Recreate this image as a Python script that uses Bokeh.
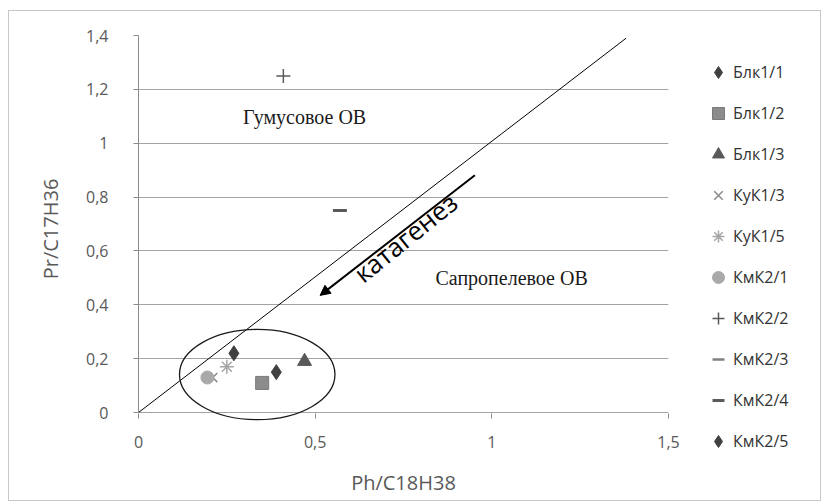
from bokeh.plotting import figure
from bokeh.layouts import row
from bokeh.models import (Range1d, FixedTicker, CustomJSTickFormatter, Legend, LegendItem,
                          Label, Arrow, NormalHead, ColumnDataSource)
from bokeh.embed import file_html
from bokeh.resources import INLINE

# ---- data ----
series_names = ["Блк1/1", "Блк1/2", "Блк1/3", "КуК1/3", "КуК1/5",
                "КмК2/1", "КмК2/2", "КмК2/3", "КмК2/4", "КмК2/5"]
ph_c18 = [0.39, 0.35, 0.47, 0.21, 0.25, 0.195, 0.41, 0.57, 0.57, 0.27]
pr_c17 = [0.15, 0.11, 0.19, 0.13, 0.17, 0.13, 1.25, 0.75, 0.75, 0.22]

x_ticks = [0, 0.5, 1, 1.5]
y_ticks = [0, 0.2, 0.4, 0.6, 0.8, 1.0, 1.2, 1.4]

boundary_x = [0, 1.38]
boundary_y = [0, 1.39]

region_labels = ["Гумусовое ОВ", "Сапропелевое ОВ"]
arrow_label = "катагенез"

# ---- styles ----
styles = [
    dict(marker="diamond", size=15, fill_color="#404040", line_color="#404040", line_width=1),
    dict(marker="square", size=13, fill_color="#8c8c8c", line_color="#7a7a7a", line_width=1),
    dict(marker="triangle", size=14, fill_color="#595959", line_color="#595959", line_width=1),
    dict(marker="x", size=13, fill_color=None, line_color="#8a8a8a", line_width=1.5),
    dict(marker="asterisk", size=14, fill_color=None, line_color="#a6a6a6", line_width=1.5),
    dict(marker="circle", size=13, fill_color="#a9a9a9", line_color="#a9a9a9", line_width=1),
    dict(marker="cross", size=14, fill_color=None, line_color="#595959", line_width=1.5),
    dict(marker="dash", size=7, fill_color=None, line_color="#808080", line_width=2.5),
    dict(marker="dash", size=14, fill_color=None, line_color="#5a5a5a", line_width=3),
    dict(marker="diamond", size=15, fill_color="#404040", line_color="#404040", line_width=1),
]

FONT = "Open Sans"
H = 489
p = figure(width=679, height=H, output_backend="svg", toolbar_location=None,
           x_range=Range1d(0, 1.5), y_range=Range1d(-0.037, 1.4),
           min_border_left=129, min_border_right=20, min_border_top=24, min_border_bottom=78)
p.frame_align = False
p.outline_line_color = None
p.background_fill_color = "white"
p.border_fill_color = "white"

# grid
p.xgrid.grid_line_color = None
p.ygrid.grid_line_color = "#a3a3a3"
p.ygrid.grid_line_width = 1.2
p.ygrid.ticker = FixedTicker(ticks=y_ticks)

fmt = CustomJSTickFormatter(code="return tick.toFixed(1).replace(/\\.0$/, '').replace('.', ',');")

# x axis: the grid line at 0 acts as the axis line; ticks reach from y=0 down 5px
xa = p.xaxis[0]
xa.ticker = FixedTicker(ticks=x_ticks)
xa.formatter = fmt
xa.axis_line_color = None
xa.major_tick_line_color = "#8c8c8c"
xa.major_tick_in = 9
xa.major_tick_out = -4
xa.minor_tick_line_color = None
xa.major_label_standoff = 13
xa.major_label_text_font = FONT
xa.major_label_text_font_size = "16px"
xa.major_label_text_color = "#595959"
xa.axis_label = "Ph/C18H38"
xa.axis_label_standoff = 18
xa.axis_label_text_font = FONT
xa.axis_label_text_font_size = "20px"
xa.axis_label_text_font_style = "normal"
xa.axis_label_text_color = "#595959"

ya = p.yaxis[0]
ya.ticker = FixedTicker(ticks=y_ticks)
ya.formatter = fmt
ya.bounds = (0, 1.4)
ya.axis_line_color = "#8c8c8c"
ya.major_tick_line_color = "#8c8c8c"
ya.major_tick_in = 0
ya.major_tick_out = 5
ya.minor_tick_line_color = None
ya.major_label_standoff = 25
ya.major_label_text_font = FONT
ya.major_label_text_font_size = "16px"
ya.major_label_text_color = "#595959"
ya.axis_label = "Pr/C17H36"
ya.axis_label_standoff = 19
ya.axis_label_text_font = FONT
ya.axis_label_text_font_size = "20px"
ya.axis_label_text_font_style = "normal"
ya.axis_label_text_color = "#595959"

# boundary line
p.line(boundary_x, boundary_y, line_color="black", line_width=1)
# ellipse around cluster
p.ellipse(x=0.336, y=0.141, width=0.44, height=0.335, fill_color=None,
          line_color="#1a1a1a", line_width=1.3)

# legend panel as a separate, axis-free figure
pl = figure(width=132, height=H, output_backend="svg", toolbar_location=None,
            x_range=Range1d(10, 11), y_range=Range1d(10, 11),
            x_axis_type=None, y_axis_type=None,
            min_border_left=0, min_border_right=0, min_border_top=0, min_border_bottom=0)
pl.frame_align = False
pl.outline_line_color = None
pl.grid.visible = False
pl.background_fill_color = "white"
pl.border_fill_color = "white"

items = []
for i, name in enumerate(series_names):
    st = styles[i]
    src = ColumnDataSource(dict(x=[ph_c18[i]], y=[pr_c17[i]]))
    p.scatter("x", "y", source=src, **st)
    r = pl.scatter("x", "y", source=src, **st)
    items.append(LegendItem(label=name, renderers=[r]))

legend = Legend(items=items, location=(15, 44), padding=0, margin=0,
                glyph_width=30, glyph_height=30, label_height=30, spacing=11,
                label_standoff=-3, label_text_font=FONT, label_text_font_size="16px",
                label_text_color="#333333", border_line_color=None, background_fill_alpha=0)
pl.add_layout(legend)

# annotations
p.add_layout(Label(x=0.47, y=1.097, text=region_labels[0], text_font="Liberation Serif",
                   text_font_size="20px", text_color="#1a1a1a", text_align="center",
                   text_baseline="middle"))
p.add_layout(Label(x=1.056, y=0.498, text=region_labels[1], text_font="Liberation Serif",
                   text_font_size="20px", text_color="#1a1a1a", text_align="center",
                   text_baseline="middle"))
p.add_layout(Label(x=0.755, y=0.65, text=arrow_label, text_font=FONT,
                   text_font_size="26px", text_color="black", text_align="center",
                   text_baseline="middle", angle=39, angle_units="deg"))
p.add_layout(Arrow(x_start=0.952, y_start=0.881, x_end=0.514, y_end=0.435,
                   line_color="black", line_width=2,
                   end=NormalHead(size=10, fill_color="black", line_color="black", line_width=1)))

layout = row(p, pl, spacing=0)
layout.styles = {"margin-left": "8px", "margin-top": "10px", "border": "1px solid #c8c8c8"}

open("out.html", "w").write(file_html(layout, INLINE))
